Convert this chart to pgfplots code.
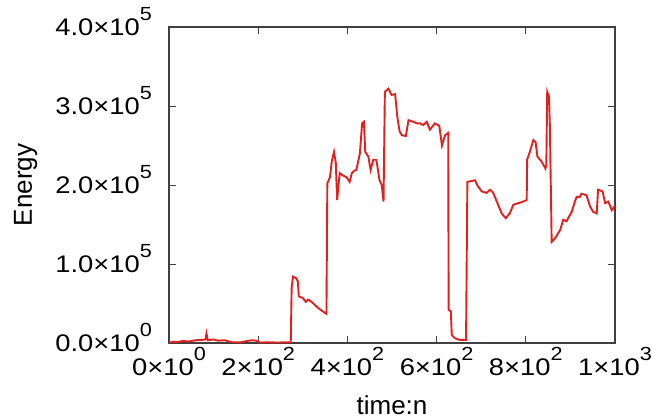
\documentclass[border=0pt]{standalone}
\usepackage{pgfplots}
\pgfplotsset{compat=1.18}
\usepackage{fontspec}
\setmainfont{Liberation Sans}
\newfontfamily\tickfont[FakeStretch=1.14]{Liberation Sans}
\definecolor{linered}{RGB}{225,32,32}
% gnuplot-like label: mantissa x 10 with a high superscript
\newcommand{\sci}[2]{#1×10\raisebox{15pt}{\fontsize{19}{20}\selectfont #2}}
\begin{document}
\begin{tikzpicture}[x=1pt,y=1pt]
\begin{axis}[
    scale only axis,
    width=446pt,
    height=316pt,
    xmin=0, xmax=1000,
    ymin=0, ymax=400000,
    xtick={0,200,400,600,800,1000},
    xticklabels={\sci{0}{0},\sci{2}{2},\sci{4}{2},\sci{6}{2},\sci{8}{2},\sci{1}{3}},
    ytick={0,100000,200000,300000,400000},
    yticklabels={\sci{0.0}{0},\sci{1.0}{5},\sci{2.0}{5},\sci{3.0}{5},\sci{4.0}{5}},
    scaled ticks=false,
    tick align=inside,
    major tick length=7pt,
    tick style={black!75, line width=1pt},
    axis line style={black!75, line width=1.3pt},
    ticklabel style={font=\tickfont\fontsize{24}{28}\selectfont, inner sep=0pt},
    label style={font=\fontsize{26}{30}\selectfont},
    xticklabel style={anchor=base, yshift=-32pt},
    yticklabel style={anchor=base east, xshift=-17pt, yshift=-8.5pt},
    xlabel={time:n},
    ylabel={Energy},
    xlabel style={at={(axis description cs:0.5,0)}, anchor=base, inner sep=0pt, yshift=-71pt},
    ylabel style={at={(axis description cs:0,0.5)}, anchor=base, inner sep=0pt, yshift=137pt},
]
\addplot[color=linered, line width=1.9pt] coordinates {
(0,500) (10,1500) (20,1200) (30,2500) (45,2000) (60,3500) (75,4000) (82,4500)
(84,12000) (87,3500) (100,4500) (110,3000) (125,3500) (140,1000) (160,800)
(175,2500) (185,3500) (195,3000) (205,500) (220,1000) (240,600) (260,800)
(273,1000) (275,70000) (278,84000) (285,82000) (289,78000) (291,59000)
(300,57000) (307,52000) (312,55000) (320,52000) (331,46000) (340,42000)
(350,38000) (353,37000) (355,202000) (361,210000) (365,230000) (370,242000)
(374,228000) (377,181000) (380,200000) (383,215000) (390,212000) (398,210000)
(405,204000) (410,215000) (415,218000) (420,219000) (425,232000) (428,240000)
(433,278000) (437,280000) (440,242000) (447,236000) (452,219000) (458,232000)
(465,232000) (472,206000) (477,200000) (481,179000) (484,318000) (492,322000)
(499,314000) (507,315000) (512,286000) (517,268000) (522,263000) (531,262000)
(537,282000) (548,280000) (556,278000) (563,278000) (570,276000) (578,280000)
(585,270000) (596,278000) (606,275000) (612,250000) (619,263000) (626,266000)
(627,42000) (632,40000) (634,10000) (641,6000) (652,4000) (666,4000)
(669,204000) (678,205000) (686,206000) (693,198000) (701,192000) (712,190000)
(720,194000) (727,190000) (735,179000) (746,164000) (755,158000) (764,164000)
(772,175000) (783,177000) (794,179000) (802,181000) (803,232000) (809,242000)
(817,257000) (822,254000) (826,236000) (835,230000) (844,221000) (846,225000)
(848,318000) (852,312000) (854,274000) (858,128000) (865,132000) (877,143000)
(884,156000) (891,154000) (903,166000) (910,179000) (914,185000) (921,185000)
(925,189000) (936,187000) (944,173000) (951,166000) (959,164000) (962,194000)
(972,192000) (978,177000) (985,179000) (993,168000) (1000,174000)
};
\end{axis}
\pgfresetboundingbox
\path[use as bounding box] (-169,-75) rectangle (483,343);
\end{tikzpicture}
\end{document}
